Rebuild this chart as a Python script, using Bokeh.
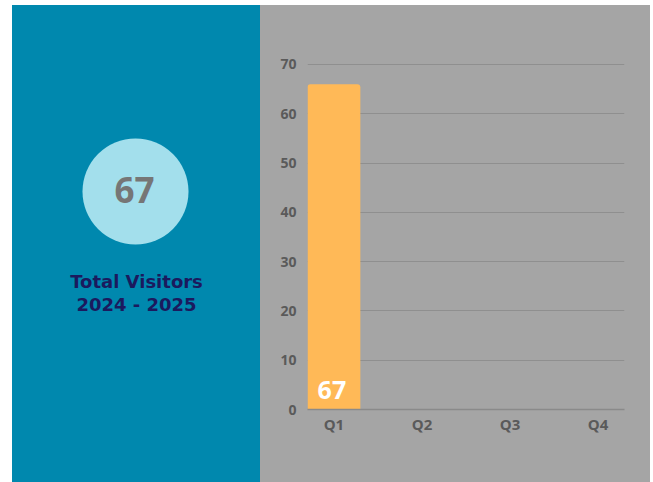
from bokeh.plotting import figure
from bokeh.layouts import row
from bokeh.models import ColumnDataSource, FixedTicker, Range1d
from bokeh.core.properties import value
from bokeh.embed import file_html
from bokeh.resources import INLINE

# ---- data ----
quarters = ["Q1", "Q2", "Q3", "Q4"]
visitors = [66, 0, 0, 0]
bar_labels = ["67", "", "", ""]
total_visitors = "67"
title_lines = ["Total Visitors", "2024 - 2025"]
y_ticks = [0, 10, 20, 30, 40, 50, 60, 70]

BLUE = "#0088AE"
GRAY = "#A5A5A5"
LIGHT = "#A3DFEC"
ORANGE = "#FFB957"
NAVY = "#1B1A5E"

H = 477
TOP, BOTTOM = 58, 73

# ---- left panel ----
W_L = 248
left = figure(width=W_L, height=H, output_backend="svg", toolbar_location=None,
              x_range=Range1d(0, W_L), y_range=Range1d(H - BOTTOM, TOP),
              min_border_left=0, min_border_right=0,
              min_border_top=TOP, min_border_bottom=BOTTOM,
              margin=(5, 0, 0, 12), styles={"background-color": BLUE})
left.axis.visible = False
left.grid.visible = False
left.outline_line_color = None
left.background_fill_alpha = 0
left.border_fill_alpha = 0
left.circle(x=[123], y=[186], radius=53, fill_color=LIGHT, line_color=None)
left.text(x=[122], y=[184], text=[total_visitors], text_align="center",
          text_baseline="middle", text_font=value("Open Sans"),
          text_font_style="bold", text_font_size="35px", text_color="#767676")
left.text(x=[124, 124], y=[276, 299], text=title_lines, text_align="center",
          text_baseline="middle", text_font=value("DejaVu Sans"),
          text_font_style="bold", text_font_size="18px", text_color=NAVY)

# ---- right panel ----
W_R = 390
src = ColumnDataSource(dict(x=list(range(len(quarters))), top=visitors,
                            label=bar_labels))
right = figure(width=W_R, height=H, output_backend="svg", toolbar_location=None,
               x_range=Range1d(-0.3, 3.3), y_range=Range1d(0, 70.2),
               min_border_left=47, min_border_right=26,
               min_border_top=TOP, min_border_bottom=BOTTOM,
               margin=(5, 0, 0, 0), styles={"background-color": GRAY})
right.background_fill_alpha = 0
right.border_fill_alpha = 0
right.outline_line_color = None
right.vbar(x="x", top="top", width=0.6, source=src, fill_color=ORANGE,
           line_color=None, border_radius=(3, 3, 0, 0))
right.text(x="x", y=4.0, text="label", source=src, text_align="center",
           text_baseline="alphabetic", text_font=value("Open Sans"),
           text_font_style="bold", text_font_size="25px", text_color="white",
           x_offset=-2)

right.xgrid.visible = False
right.ygrid.ticker = FixedTicker(ticks=y_ticks)
right.ygrid.grid_line_color = "#8F8F8F"
right.ygrid.grid_line_width = 1

for ax in (right.xaxis, right.yaxis):
    ax.major_tick_out = 0
    ax.major_tick_in = 0
    ax.minor_tick_out = 0
    ax.minor_tick_in = 0
    ax.major_tick_line_color = None
    ax.minor_tick_line_color = None
    ax.major_label_text_font = "Open Sans"
    ax.major_label_text_font_style = "bold"
    ax.major_label_text_color = "#5A5A5A"

right.yaxis.ticker = FixedTicker(ticks=y_ticks)
right.yaxis.axis_line_color = None
right.yaxis.major_label_standoff = 11
right.yaxis.major_label_text_font_size = "14px"

right.xaxis.ticker = FixedTicker(ticks=list(range(len(quarters))))
right.xaxis.major_label_overrides = {i: q for i, q in enumerate(quarters)}
right.xaxis.axis_line_color = "#8A8A8A"
right.xaxis.axis_line_width = 1.5
right.xaxis.major_label_standoff = 4
right.xaxis.major_label_text_font_size = "15px"

layout = row(left, right)
open("out.html", "w").write(file_html(layout, INLINE))
